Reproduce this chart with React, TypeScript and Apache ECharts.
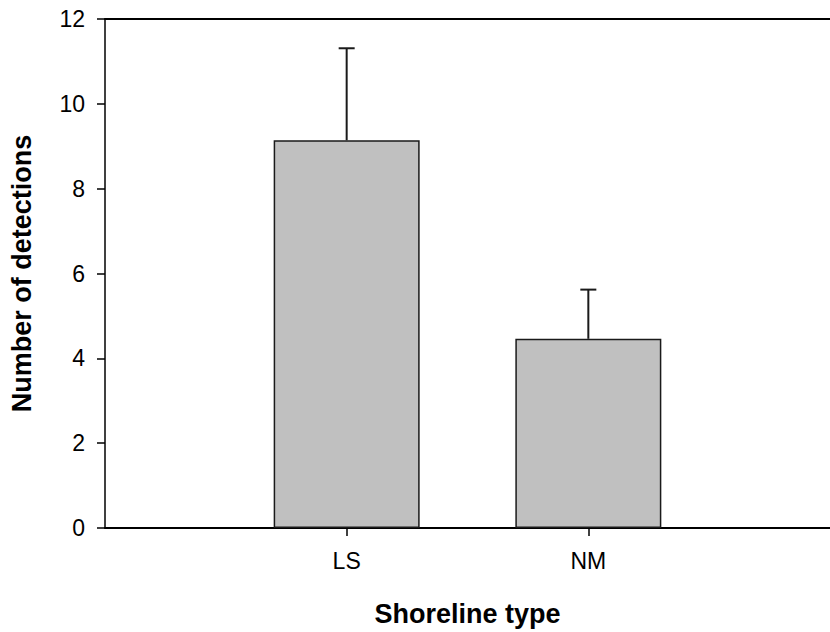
import React, { useEffect, useRef } from "react";
import * as echarts from "echarts";

const categories = ["LS", "NM"];
const means = [9.14, 4.46];
const upperErrors = [11.31, 5.62];
const yTicks = [0, 2, 4, 6, 8, 10, 12];

const FONT = "'Liberation Sans', Arial, Helvetica, sans-serif";

export default function App() {
  const ref = useRef<HTMLDivElement>(null);
  useEffect(() => {
    if (!ref.current) return;
    const chart = echarts.init(ref.current, null, { renderer: "svg" });
    const positions = categories.map((_, i) => i + 1);
    const barData = positions.map((p, i) => [p, means[i]]);
    const errData = positions.map((p, i) => [p, means[i], upperErrors[i]]);
    chart.setOption({
      animation: false,
      backgroundColor: "#ffffff",
      grid: { left: 105, top: 19, width: 735, height: 515, containLabel: false },
      xAxis: [
        {
          type: "value",
          min: 0,
          max: 3,
          interval: 1,
          position: "bottom",
          name: "Shoreline type",
          nameLocation: "middle",
          nameGap: 72,
          nameTextStyle: { fontFamily: FONT, fontSize: 27, fontWeight: "bold", color: "#000" },
          axisLine: { show: true, onZero: false, lineStyle: { color: "#000", width: 2 } },
          axisTick: { show: true, length: 8, customValues: [1, 2], lineStyle: { color: "#000", width: 1.5 } },
          axisLabel: {
            show: true,
            margin: 21,
            customValues: [1, 2],
            fontFamily: FONT,
            fontSize: 23,
            color: "#000",
            formatter: (v: number) => categories[Math.round(v) - 1] ?? "",
          },
          splitLine: { show: false },
        },
        {
          type: "value",
          min: 0,
          max: 3,
          position: "top",
          axisLine: { show: true, onZero: false, lineStyle: { color: "#000", width: 2 } },
          axisTick: { show: false },
          axisLabel: { show: false },
          splitLine: { show: false },
        },
      ],
      yAxis: {
        type: "value",
        min: 0,
        max: 12,
        interval: 2,
        name: "Number of detections",
        nameLocation: "middle",
        nameGap: 70,
        nameTextStyle: { fontFamily: FONT, fontSize: 27, fontWeight: "bold", color: "#000" },
        axisLine: { show: true, onZero: false, lineStyle: { color: "#000", width: 1.5 } },
        axisTick: { show: true, inside: false, length: 8, lineStyle: { color: "#000", width: 1.5 } },
        axisLabel: {
          margin: 20,
          fontFamily: FONT,
          fontSize: 23,
          color: "#000",
          customValues: yTicks,
        },
        splitLine: { show: false },
      },
      series: [
        {
          type: "bar",
          xAxisIndex: 0,
          data: barData,
          barWidth: 146,
          itemStyle: { color: "#c0c0c0", borderColor: "#1a1a1a", borderWidth: 1.5 },
          z: 2,
        },
        {
          type: "custom",
          xAxisIndex: 0,
          data: errData,
          clip: false,
          z: 3,
          renderItem: (params: any, api: any) => {
            const x = api.value(0);
            const base = api.coord([x, api.value(1)]);
            const top = api.coord([x, api.value(2)]);
            const half = 8;
            const style = { stroke: "#1a1a1a", lineWidth: 2, fill: "none" };
            return {
              type: "group",
              children: [
                { type: "line", shape: { x1: base[0], y1: base[1], x2: top[0], y2: top[1] }, style },
                { type: "line", shape: { x1: top[0] - half, y1: top[1], x2: top[0] + half, y2: top[1] }, style },
              ],
            };
          },
        },
      ],
    });
    return () => chart.dispose();
  }, []);
  return (
    <div
      ref={ref}
      style={{ position: "fixed", left: 0, top: 0, width: 830, height: 632, background: "#fff" }}
    />
  );
}
